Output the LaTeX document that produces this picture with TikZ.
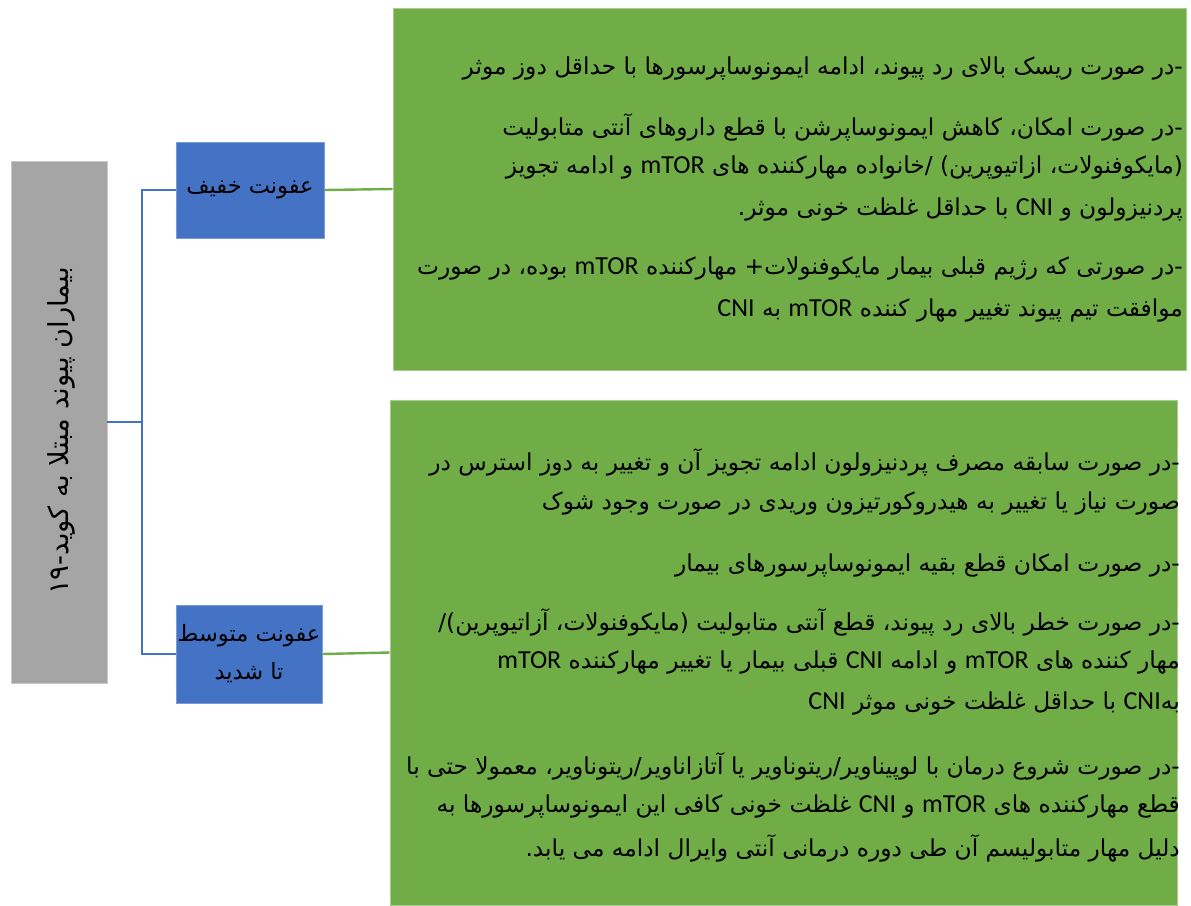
\documentclass[tikz,border=0pt]{standalone}
\usepackage{fontspec}
\setmainfont{Carlito}
\newfontfamily\fa[Script=Arabic]{DejaVu Sans}
\newfontfamily\la{Carlito}
\TeXXeTstate=1
\newcommand{\lt}[1]{\beginL{\la\fontsize{26}{28}\selectfont #1}\endL}
\newcommand{\rl}[1]{{\fa\beginR #1\endR}}
\definecolor{boxgreen}{HTML}{70AD47}
\definecolor{boxblue}{HTML}{4472C4}
\definecolor{boxgray}{HTML}{A5A5A5}
\begin{document}
\begin{tikzpicture}[x=1pt,y=-1pt,
  gbox/.style={fill=boxgreen, draw=boxgreen!60!white, line width=0.8pt, inner sep=0},
  bbox/.style={fill=boxblue, draw=boxblue!70!white, line width=0.8pt, inner sep=0, align=center, font=\fontsize{22.5}{40}\selectfont},
  graybox/.style={fill=boxgray, draw=boxgray!60!white, line width=0.8pt, inner sep=0},
  tline/.style={anchor=east, inner sep=0, font=\fontsize{23.3}{26}\selectfont},
  blueline/.style={draw=boxblue, line width=2.4pt},
  greenline/.style={draw=boxgreen, line width=2.4pt}
]
\useasboundingbox (0,0) rectangle (1191,905);
\fill[white] (0,0) rectangle (1191,905);

% main boxes
\node[graybox, minimum width=96, minimum height=522] (gray) at (59,422) {};
\node[rotate=90, inner sep=0, font=\fontsize{27.5}{30}\selectfont] (graytxt) at (61,431) {\rl{بیماران پیوند مبتلا به کوید-۱۹}};

\node[bbox, minimum width=148, minimum height=96] (b1) at (250,190) {\rl{عفونت خفیف}};
\node[bbox, minimum width=146, minimum height=98] (b2) at (249,654) {\rl{عفونت متوسط}\\[-2pt]\rl{تا شدید}};

\node[gbox, minimum width=793, minimum height=362] (g1) at (789.5,189) {};
\node[gbox, minimum width=787, minimum height=505] (g2) at (783.5,652.5) {};

% connectors
\coordinate (trunk) at (142,422);
\draw[blueline] (gray.east) -- (trunk);
\draw[blueline] (b1.west) -| (trunk) |- (b2.west);
\draw[greenline] (b1.east) -- (g1.west);
\draw[greenline] (b2.east) -- (g2.west);

% text of box 1
\node[tline] (t11) at (1183,68) {\rl{-در صورت ریسک بالای رد پیوند، ادامه ایمونوساپرسورها  با حداقل دوز موثر}};
\node[tline] (t12) at (1183,127) {\rl{-در صورت امکان، کاهش ایمونوساپرشن با قطع داروهای آنتی متابولیت}};
\node[tline] (t13) at (1183,167) {\rl{(مایکوفنولات، ازاتیوپرین) /خانواده مهارکننده های \lt{mTOR} و ادامه  تجویز}};
\node[tline] (t14) at (1183,209) {\rl{پردنیزولون و \lt{CNI} با حداقل غلظت خونی موثر.}};
\node[tline] (t15) at (1183,268) {\rl{-در صورتی که رژیم قبلی بیمار مایکوفنولات+ مهارکننده \lt{mTOR} بوده، در صورت}};
\node[tline] (t16) at (1183,310) {\rl{موافقت تیم پیوند تغییر مهار کننده \lt{mTOR} به \lt{CNI}}};

% text of box 2
\node[tline] (t21) at (1180,462) {\rl{-در صورت سابقه مصرف پردنیزولون ادامه تجویز آن و تغییر به دوز استرس در}};
\node[tline] (t22) at (1180,503) {\rl{صورت نیاز یا تغییر به هیدروکورتیزون وریدی در صورت وجود شوک}};
\node[tline] (t23) at (1180,565) {\rl{-در صورت امکان قطع بقیه ایمونوساپرسورهای بیمار}};
\node[tline] (t24) at (1180,622) {\rl{-در صورت خطر بالای رد پیوند، قطع آنتی متابولیت (مایکوفنولات، آزاتیوپرین)/}};
\node[tline] (t25) at (1180,662) {\rl{مهار کننده های \lt{mTOR} و ادامه \lt{CNI} قبلی بیمار یا تغییر مهارکننده \lt{mTOR}}};
\node[tline] (t26) at (1180,703) {\rl{به\lt{CNI} با حداقل غلظت خونی موثر \lt{CNI}}};
\node[tline] (t27) at (1180,766) {\rl{-در صورت شروع درمان با لوپیناویر/ریتوناویر یا آتازاناویر/ریتوناویر، معمولا حتی با}};
\node[tline] (t28) at (1180,806) {\rl{قطع مهارکننده های \lt{mTOR} و \lt{CNI} غلظت خونی کافی این ایمونوساپرسورها به}};
\node[tline] (t29) at (1180,848) {\rl{دلیل مهار متابولیسم آن طی دوره درمانی آنتی وایرال ادامه می یابد.}};
\end{tikzpicture}
\end{document}
